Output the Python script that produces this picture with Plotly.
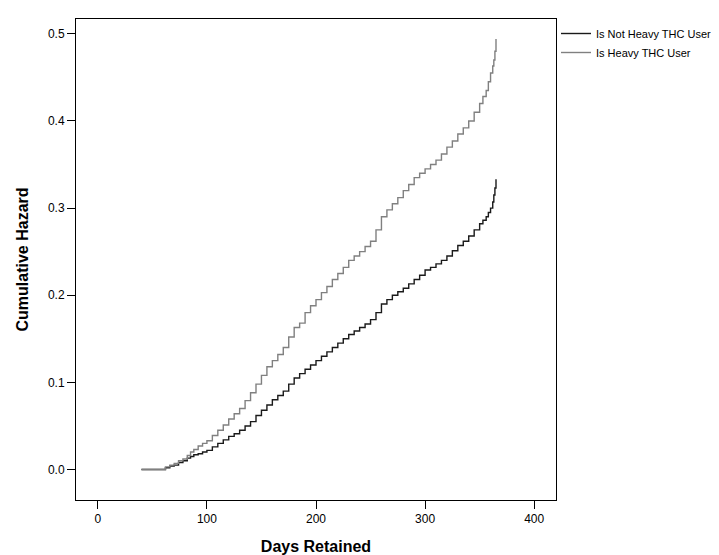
import plotly.graph_objects as go

# step-function cumulative hazard
days_not = [40, 62, 66, 70, 74, 78, 82, 85, 88, 92, 96, 100, 105, 110, 115, 120, 125, 130, 135, 140, 145,
            150, 155, 160, 165, 170, 175, 180, 185, 190, 195, 200, 205,
            210, 215, 220, 225, 230, 235, 240, 245, 250, 255, 260, 265, 270, 275, 280, 285, 290, 295,
            300, 305, 310, 315, 320, 325, 330, 335, 340, 345, 350, 353, 356, 358, 360, 362, 363, 364, 365]
haz_not = [0.0, 0.002, 0.004, 0.005, 0.008, 0.01, 0.013, 0.015, 0.017, 0.018, 0.02, 0.022, 0.026,
           0.03, 0.034, 0.038, 0.041, 0.045, 0.05, 0.055, 0.062, 0.068, 0.074, 0.08, 0.085,
           0.09, 0.098, 0.105, 0.11, 0.115, 0.12, 0.125, 0.13, 0.135, 0.14, 0.145, 0.15, 0.155, 0.159,
           0.163, 0.167, 0.172, 0.18, 0.19, 0.195, 0.2, 0.204, 0.208, 0.213, 0.218, 0.223,
           0.229, 0.232, 0.236, 0.24, 0.245, 0.251, 0.257, 0.262, 0.268, 0.275, 0.282, 0.286, 0.29,
           0.295, 0.3, 0.307, 0.315, 0.323, 0.333]

days_heavy = [40, 62, 66, 70, 74, 78, 82, 85, 88, 92, 96, 100, 105, 110, 115, 120, 125, 130, 135, 140, 145,
              150, 155, 160, 165, 170, 175, 180, 185, 190, 195, 200, 205,
              210, 215, 220, 225, 230, 235, 240, 245, 250, 255, 260, 265, 270, 275, 280, 285, 290, 295,
              300, 305, 310, 315, 320, 325, 330, 335, 340, 345, 350, 353, 356, 358, 360, 362, 363, 364, 365]
haz_heavy = [0.0, 0.003, 0.005, 0.007, 0.01, 0.012, 0.016, 0.02, 0.023, 0.027, 0.03, 0.033, 0.039,
             0.045, 0.051, 0.058, 0.064, 0.07, 0.079, 0.088, 0.098, 0.108, 0.118, 0.125, 0.132,
             0.14, 0.152, 0.163, 0.168, 0.18, 0.188, 0.195, 0.203, 0.21, 0.218, 0.225, 0.232, 0.24,
             0.245, 0.25, 0.256, 0.262, 0.275, 0.29, 0.298, 0.305, 0.312, 0.32, 0.327, 0.335, 0.34,
             0.345, 0.35, 0.355, 0.362, 0.37, 0.377, 0.385, 0.392, 0.4, 0.41, 0.42, 0.428, 0.435,
             0.445, 0.455, 0.463, 0.47, 0.48, 0.494]

fig = go.Figure()
fig.add_trace(go.Scatter(x=days_not, y=haz_not, mode="lines", line_shape="hv",
                         line=dict(color="#1a1a1a", width=1.4), name="Is Not Heavy THC User"))
fig.add_trace(go.Scatter(x=days_heavy, y=haz_heavy, mode="lines", line_shape="hv",
                         line=dict(color="#808080", width=1.4), name="Is Heavy THC User"))

axis_common = dict(showline=True, linecolor="black", linewidth=1, mirror=True, showgrid=False,
                   zeroline=False, ticks="outside", ticklen=8, tickcolor="black",
                   tickfont=dict(size=12, color="black"))
fig.update_xaxes(range=[-20, 420], tickvals=[0, 100, 200, 300, 400],
                 title=dict(text="<b>Days Retained</b>", font=dict(size=16, color="black")), **axis_common)
fig.update_yaxes(range=[-0.035, 0.517], tickvals=[0, 0.1, 0.2, 0.3, 0.4, 0.5], tickformat=".1f",
                 title=dict(text="<b>Cumulative Hazard</b>", font=dict(size=16, color="black")), **axis_common)

fig.update_layout(
    width=719, height=555,
    paper_bgcolor="white", plot_bgcolor="white",
    font=dict(family="Liberation Sans, Arial, sans-serif", color="black"),
    margin=dict(l=68, r=159, t=10, b=59),
    legend=dict(x=1.0, y=1.0, xanchor="left", yanchor="top", font=dict(size=11),
                tracegroupgap=0, itemwidth=30, bgcolor="rgba(0,0,0,0)"),
)

fig.write_html("out.html")
